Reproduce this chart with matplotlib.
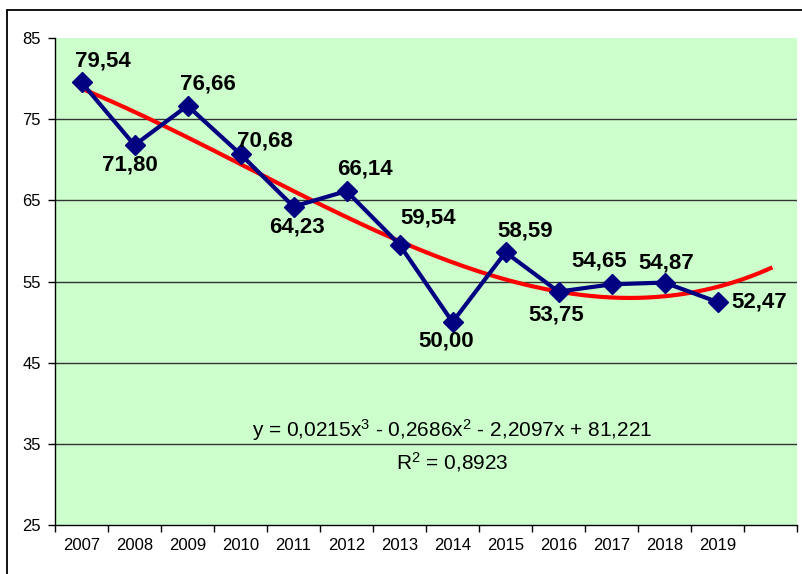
import matplotlib.pyplot as plt
from matplotlib.patches import Rectangle
import numpy as np

plt.rcParams['font.family'] = ['Liberation Sans', 'DejaVu Sans']
plt.rcParams['mathtext.fontset'] = 'custom'
plt.rcParams['mathtext.rm'] = 'Liberation Sans'
plt.rcParams['mathtext.it'] = 'Liberation Sans'

# Data
years = ['2007', '2008', '2009', '2010', '2011', '2012', '2013',
         '2014', '2015', '2016', '2017', '2018', '2019']
values = [79.54, 71.80, 76.66, 70.68, 64.23, 66.14, 59.54,
          50.00, 58.59, 53.75, 54.65, 54.87, 52.47]
value_labels = ['79,54', '71,80', '76,66', '70,68', '64,23', '66,14', '59,54',
                '50,00', '58,59', '53,75', '54,65', '54,87', '52,47']
# Polynomial trendline as printed on the chart (x = 1, 2, ...), one period forecast
trend_coefs = [0.0215, -0.2686, -2.2097, 81.221]
trend_periods = 14
equation = r'y = 0,0215x$^{3}$ - 0,2686x$^{2}$ - 2,2097x + 81,221'
r2_text = r'R$^{2}$ = 0,8923'

# label offsets in pixels (dx, dy), positive dy is up
label_offsets = [(21, 21), (-5, -20), (20, 22), (24, 13), (3, -20), (18, 22),
                 (29, 27), (-6, -19), (20, 21), (-2, -23), (-12, 23), (2, 20),
                 (42, 0)]

fig = plt.figure(figsize=(8.02, 5.74), dpi=100)
fig.patch.set_facecolor('white')
fig.patches.append(Rectangle((7 / 802, -0.2), 1.2, 1 - 10 / 574 + 0.2,
                             transform=fig.transFigure, fill=False,
                             edgecolor='black', linewidth=1.3))

ax = fig.add_axes([55 / 802, 1 - 525 / 574, 742 / 802, 487 / 574])
ax.set_facecolor('#CCFFCC')

x = np.arange(len(values))
tx = np.linspace(1, trend_periods, 300)
ty = np.polyval(trend_coefs, tx)
ax.plot(tx - 1, ty, color='#FF0000', linewidth=3, zorder=3)
ax.plot(x, values, color='#000080', linewidth=3, marker='D', markersize=10,
        zorder=4)

for xi, v, lab, (dx, dy) in zip(x, values, value_labels, label_offsets):
    ax.annotate(lab, (xi, v), xytext=(dx, dy), textcoords='offset pixels',
                ha='center', va='center', fontsize=16, fontweight='bold',
                color='black', zorder=5)

ax.text(0.535, 0.195, equation, transform=ax.transAxes, ha='center',
        va='center', fontsize=15)
ax.text(0.535, 0.13, r2_text, transform=ax.transAxes, ha='center',
        va='center', fontsize=15)

ax.set_ylim(25, 85)
ax.set_yticks(np.arange(25, 86, 10))
ax.set_xlim(-0.5, trend_periods - 0.5)
ax.set_xticks(np.arange(-0.5, trend_periods, 1))
ax.set_xticklabels([])
ax.set_xticks(x, minor=True)
ax.set_xticklabels(years, minor=True)
ax.tick_params(axis='x', which='minor', length=0, labelsize=12, pad=9)
ax.tick_params(axis='x', which='major', length=5, width=1)
ax.tick_params(axis='y', length=5, width=1, labelsize=12, pad=5)

for g in [35, 45, 55, 65, 75]:
    ax.axhline(g, color='#333333', linewidth=1, zorder=1)

for s in ['top', 'right']:
    ax.spines[s].set_visible(False)
ax.spines['left'].set_linewidth(1)
ax.spines['bottom'].set_linewidth(1)

fig.savefig('out.png', dpi=100)
